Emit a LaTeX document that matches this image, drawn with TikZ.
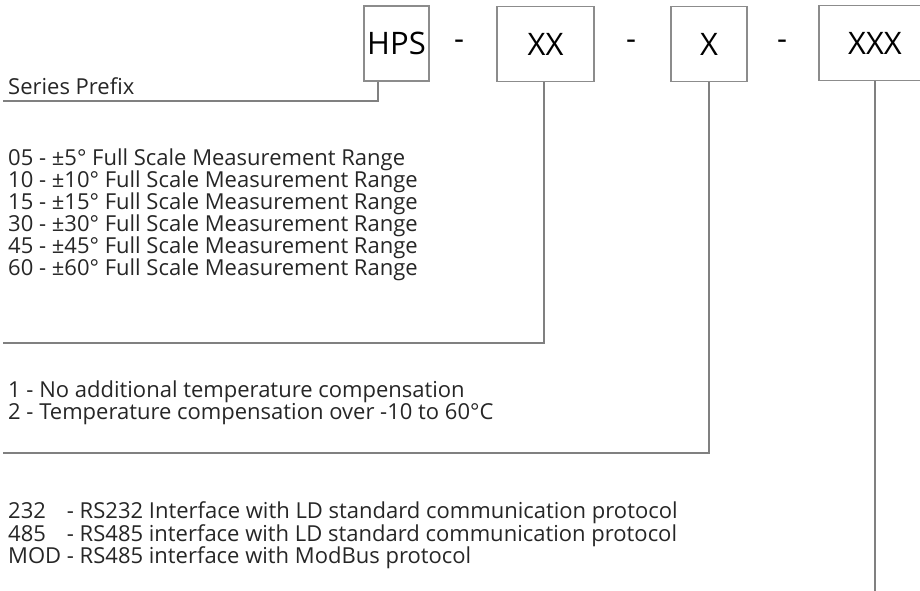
\documentclass[tikz,border=0pt]{standalone}
\usepackage{fontspec}
\setmainfont{Open Sans}
\usetikzlibrary{positioning}
\definecolor{leadgray}{HTML}{808080}
\definecolor{boxgray}{HTML}{8C8C8C}
\tikzset{
  codebox/.style={draw=boxgray, line width=1.3pt, minimum height=75pt, inner sep=0pt, font=\fontsize{31}{31}\selectfont},
  dashsep/.style={inner sep=0pt, font=\fontsize{31}{31}\selectfont},
  lead/.style={draw=leadgray, line width=2pt},
  item/.style={anchor=base west, inner sep=0pt, text=black!85, font=\fontsize{22}{24}\selectfont},
}

\begin{document}
\begin{tikzpicture}[x=1pt, y=-1pt]
    \useasboundingbox (0,0) rectangle (920,591);
    % part number boxes
    \node[codebox, minimum width=65pt] (hps) at (396.5,43.5) {HPS};
    \node[codebox, minimum width=97pt] (xx) at (545.5,44) {XX};
    \node[codebox, minimum width=76pt] (x) at (709,44) {X};
    \node[codebox, minimum width=112pt] (xxx) at (875,43) {XXX};
    \node[dashsep] (d1) at (459,45) {-};
    \node[dashsep] (d2) at (631,45) {-};
    \node[dashsep] (d3) at (782,45) {-};

    % option texts
    \node[item] (prefix) at (8,95) {Series Prefix};
    \node[item] (r05) at (8,165) {05 - ±5° Full Scale Measurement Range};
    \node[item] (r10) at (8,187) {10 - ±10° Full Scale Measurement Range};
    \node[item] (r15) at (8,209) {15 - ±15° Full Scale Measurement Range};
    \node[item] (r30) at (8,231) {30 - ±30° Full Scale Measurement Range};
    \node[item] (r45) at (8,253) {45 - ±45° Full Scale Measurement Range};
    \node[item] (r60) at (8,275) {60 - ±60° Full Scale Measurement Range};
    \node[item] (t1) at (8,397) {1 - No additional temperature compensation};
    \node[item] (t2) at (8,419) {2 - Temperature compensation over -10 to 60°C};
    \node[item] (i232) at (8,518) {\rlap{232}\hphantom{MOD} - RS232 Interface with LD standard communication protocol};
    \node[item] (i485) at (8,541) {\rlap{485}\hphantom{MOD} - RS485 interface with LD standard communication protocol};
    \node[item] (imod) at (8,563) {MOD - RS485 interface with ModBus protocol};

    % leader lines
    \coordinate (prefend) at (3,101);
    \coordinate (rangeend) at (3,343);
    \coordinate (tcend) at (3,453);
    \coordinate (ifend) at (875,593);
    \draw[lead] ([xshift=15pt]hps.south west) |- (prefend);
    \draw[lead] ([xshift=-2pt]xx.south) |- (rangeend);
    \draw[lead] (x.south) |- (tcend);
    \draw[lead] (xxx.south) -- (ifend);
\end{tikzpicture}
\end{document}
